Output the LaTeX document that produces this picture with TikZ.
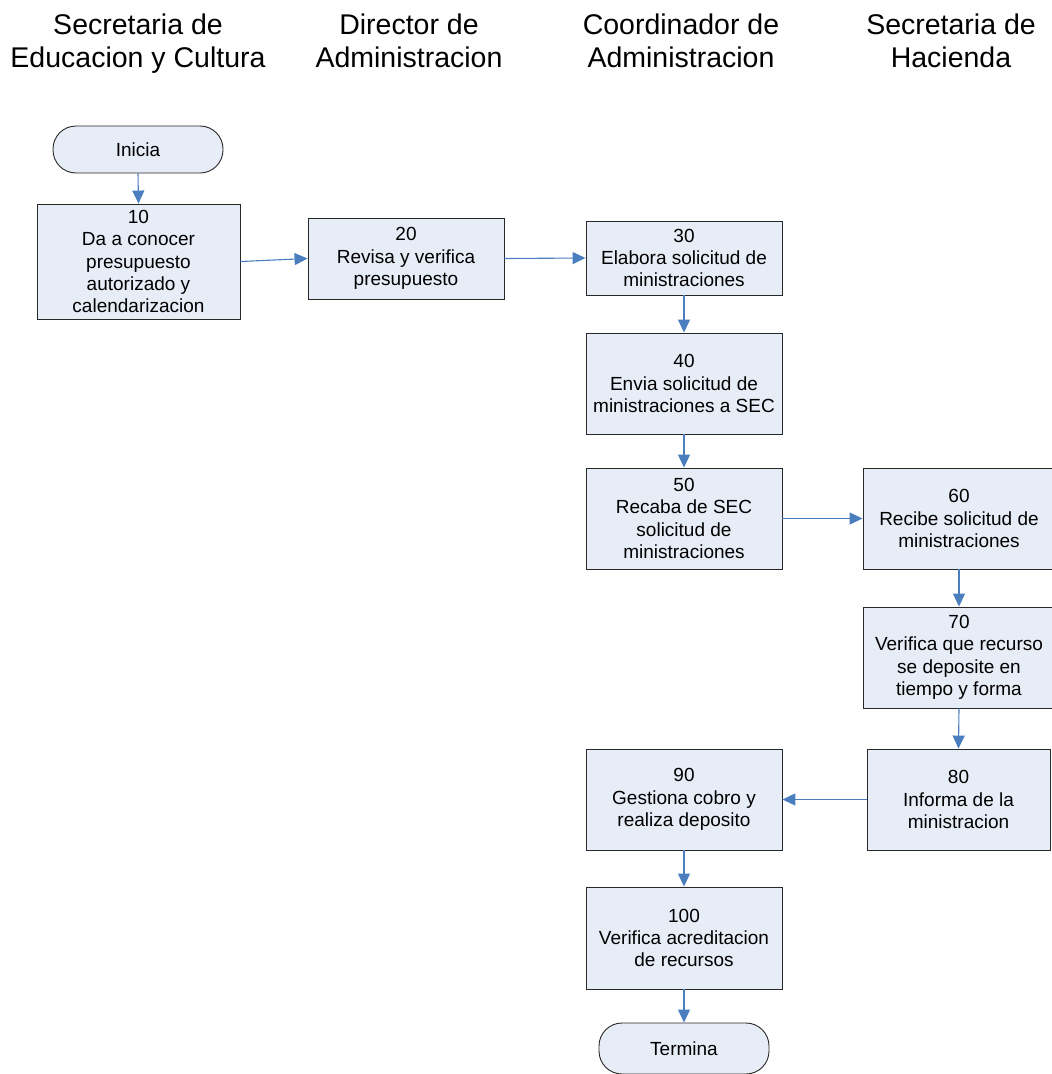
\documentclass[tikz,border=0pt]{standalone}
\usepackage{fontspec}
\setmainfont{Liberation Sans}
\usetikzlibrary{arrows.meta}
\definecolor{boxfill}{RGB}{231,237,247}
\definecolor{arrowblue}{RGB}{74,126,190}
\definecolor{boxline}{RGB}{40,40,40}
\tikzset{
  procbox/.style={draw=boxline, line width=0.9pt, fill=boxfill, align=center,
    inner sep=0pt, font=\fontsize{19}{22.4}\selectfont},
  termbox/.style={procbox, rounded corners=23pt},
  header/.style={align=center, anchor=north, inner sep=0pt,
    font=\fontsize{28.5}{33}\selectfont},
  flow/.style={draw=arrowblue, line width=1.1pt, -{Triangle[length=13pt,width=12pt]}}
}
\begin{document}
\begin{tikzpicture}[x=1pt,y=-1pt]
\useasboundingbox (0,0) rectangle (1052,1074);
% headers
\node[header] (h1) at (138,14) {Secretaria de\\Educacion y Cultura};
\node[header] (h2) at (409,14) {Director de\\Administracion};
\node[header] (h3) at (681,14) {Coordinador de\\Administracion};
\node[header] (h4) at (951,14) {Secretaria de\\Hacienda};
% nodes
\node[termbox, minimum width=170pt, minimum height=47pt] (ini) at (138,149.5) {Inicia};
\node[procbox, minimum width=203pt, minimum height=115pt] (b10) at (138.5,261.5)
  {10\\Da a conocer\\presupuesto\\autorizado y\\calendarizacion};
\node[procbox, minimum width=196pt, minimum height=81pt] (b20) at (406,258.5)
  {20\\Revisa y verifica\\presupuesto};
\node[procbox, minimum width=196pt, minimum height=74pt] (b30) at (684,258)
  {30\\Elabora solicitud de\\ministraciones};
\node[procbox, minimum width=196pt, minimum height=101pt] (b40) at (684,383.5)
  {40\\Envia solicitud de\\ministraciones a SEC};
\node[procbox, minimum width=196pt, minimum height=101pt] (b50) at (684,518.5)
  {50\\Recaba de SEC\\solicitud de\\ministraciones};
\node[procbox, minimum width=192pt, minimum height=101pt] (b60) at (959,518.5)
  {60\\Recibe solicitud de\\ministraciones};
\node[procbox, minimum width=192pt, minimum height=101pt] (b70) at (959,657.5)
  {70\\Verifica que recurso\\se deposite en\\tiempo y forma};
\node[procbox, minimum width=183pt, minimum height=101pt] (b80) at (958.5,799.5)
  {80\\Informa de la\\ministracion};
\node[procbox, minimum width=196pt, minimum height=101pt] (b90) at (684,799.5)
  {90\\Gestiona cobro y\\realiza deposito};
\node[procbox, minimum width=196pt, minimum height=102pt] (b100) at (684,938)
  {100\\Verifica acreditacion\\de recursos};
\node[termbox, minimum width=170pt, minimum height=51pt] (fin) at (684,1048.5) {Termina};
% connectors
\draw[flow] (ini.south) -- (b10.north);
\draw[flow] (b10.east) -- (b20.west);
\draw[flow] (b20.east) -- (b30.west);
\draw[flow] (b30.south) -- (b40.north);
\draw[flow] (b40.south) -- (b50.north);
\draw[flow] (b50.east) -- (b60.west);
\draw[flow] (b60.south) -- (b70.north);
\draw[flow] (b70.south) -- (b80.north);
\draw[flow] (b80.west) -- (b90.east);
\draw[flow] (b90.south) -- (b100.north);
\draw[flow] (b100.south) -- (fin.north);
\end{tikzpicture}
\end{document}
